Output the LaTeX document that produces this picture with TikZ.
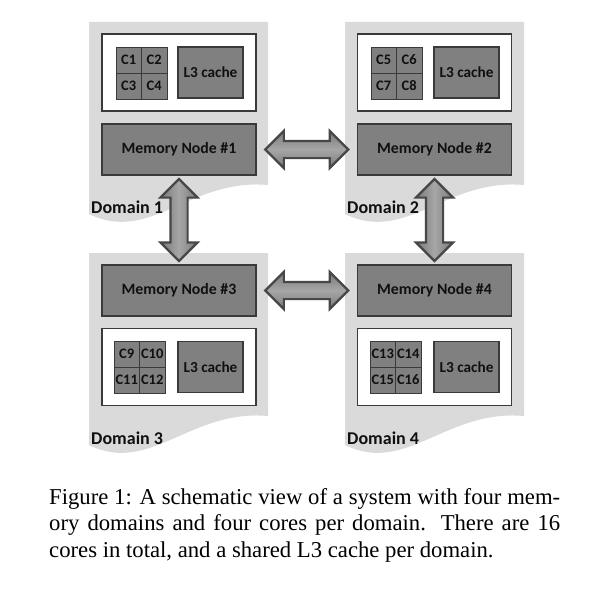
\documentclass[tikz,border=0pt]{standalone}
\usepackage{fontspec}
\setmainfont{Liberation Serif}
\newfontfamily\carl{Carlito}
\usetikzlibrary{shapes.arrows,calc}
\definecolor{bgray}{HTML}{DADADA}
\definecolor{boxgray}{HTML}{808080}
\definecolor{edgec}{HTML}{3A3A3A}
\definecolor{arredge}{HTML}{474747}
\definecolor{arrdark}{HTML}{7A7A7A}
\definecolor{arrlight}{HTML}{A6A6A6}
\definecolor{txt}{HTML}{101010}
\newcommand\domshape[2]{%
  \fill[bgray] (#1,#2) -- ({#1+179},#2) -- ({#1+179},{#2+163})
    .. controls ({#1+101},{#2+156}) and ({#1+61},{#2+222}) .. (#1,{#2+192}) -- cycle;}
\newcommand\corequad[7]{%
  \node[corecell] (#1a) at ({#2+12.75},{#3+13}) {#4};
  \node[corecell] (#1b) at ({#2+38.25},{#3+13}) {#5};
  \node[corecell] (#1c) at ({#2+12.75},{#3+39}) {#6};
  \node[corecell] (#1d) at ({#2+38.25},{#3+39}) {#7};}
\begin{document}
\begin{tikzpicture}[x=1pt,y=-1pt,
  chipbox/.style={draw=edgec, line width=1.2pt, fill=white, minimum width=154pt, minimum height=77pt, inner sep=0pt},
  membox/.style={draw=edgec, line width=1.2pt, fill=boxgray, minimum width=154pt, minimum height=51pt, inner sep=0pt,
     text=txt, font=\carl\bfseries\fontsize{15.8}{18}\selectfont},
  corecell/.style={draw=edgec, line width=0.9pt, fill=boxgray, minimum width=25.5pt, minimum height=26pt, inner sep=0pt,
     text=txt, font=\carl\bfseries\fontsize{14.5}{16}\selectfont},
  l3box/.style={draw=edgec, line width=1.2pt, fill=boxgray, minimum width=65pt, minimum height=51pt, inner sep=0pt,
     text=txt, font=\carl\bfseries\fontsize{15.3}{17}\selectfont},
  domlabel/.style={anchor=west, inner sep=0pt, text=txt, font=\carl\bfseries\fontsize{18}{20}\selectfont},
  dblarrow/.style={double arrow, draw=arredge, line width=2.2pt, inner sep=7.5pt,
     double arrow head extend=10pt, double arrow tip angle=90, minimum height=#1},
  harrow/.style={dblarrow=#1, top color=arrdark, bottom color=arrdark, middle color=arrlight},
  varrow/.style={dblarrow=#1, shape border rotate=90, left color=arrdark, right color=arrdark, middle color=arrlight}
]
\fill[white] (0,0) rectangle (610,591);
\useasboundingbox (0,0) rectangle (610,591);

% domain backgrounds
\domshape{89}{22}
\domshape{345}{22}
\domshape{89}{253}
\domshape{345}{253}

% Domain 1
\node[chipbox] (w1) at (179,72.5) {};
\corequad{c1}{116}{47}{C1}{C2}{C3}{C4}
\node[l3box] (l1) at (210.5,72.5) {L3 cache};
\node[membox] (m1) at (179,149.5) {Memory Node \#1};
\node[domlabel] (d1) at (91,207) {Domain 1};

% Domain 2
\node[chipbox] (w2) at (434.5,72.5) {};
\corequad{c2}{371}{47}{C5}{C6}{C7}{C8}
\node[l3box] (l2) at (466.5,72.5) {L3 cache};
\node[membox] (m2) at (434.5,149.5) {Memory Node \#2};
\node[domlabel] (d2) at (347,207) {Domain 2};

% Domain 3
\node[membox] (m3) at (179,290.5) {Memory Node \#3};
\node[chipbox] (w3) at (179,367) {};
\corequad{c3}{114}{341}{C9}{C10}{C11}{C12}
\node[l3box] (l3) at (210.5,367) {L3 cache};
\node[domlabel] (d3) at (91,438) {Domain 3};

% Domain 4
\node[membox] (m4) at (434.5,290.5) {Memory Node \#4};
\node[chipbox] (w4) at (434.5,367) {};
\corequad{c4}{370}{341}{C13}{C14}{C15}{C16}
\node[l3box] (l4) at (466.5,367) {L3 cache};
\node[domlabel] (d4) at (347,438) {Domain 4};

% interconnect arrows
\node[harrow=83pt] (a12) at ($(m1.east)!0.5!(m2.west)$) {};
\node[harrow=83pt] (a34) at ($(m3.east)!0.5!(m4.west)$) {};
\node[varrow=82pt] (a13) at ($(m1.south)!0.5!(m3.north)$) {};
\node[varrow=82pt] (a24) at ($(m2.south)!0.5!(m4.north)$) {};

% caption
\node[anchor=north west, inner sep=0pt, text width=511pt, align=justify,
      font=\fontsize{22.7}{26.5}\selectfont] (cap) at (49,488)
  {Figure 1: A schematic view of a system with four mem-\linebreak ory domains and four cores per domain. There are 16\linebreak cores in total, and a shared L3 cache per domain.};
\end{tikzpicture}
\end{document}
